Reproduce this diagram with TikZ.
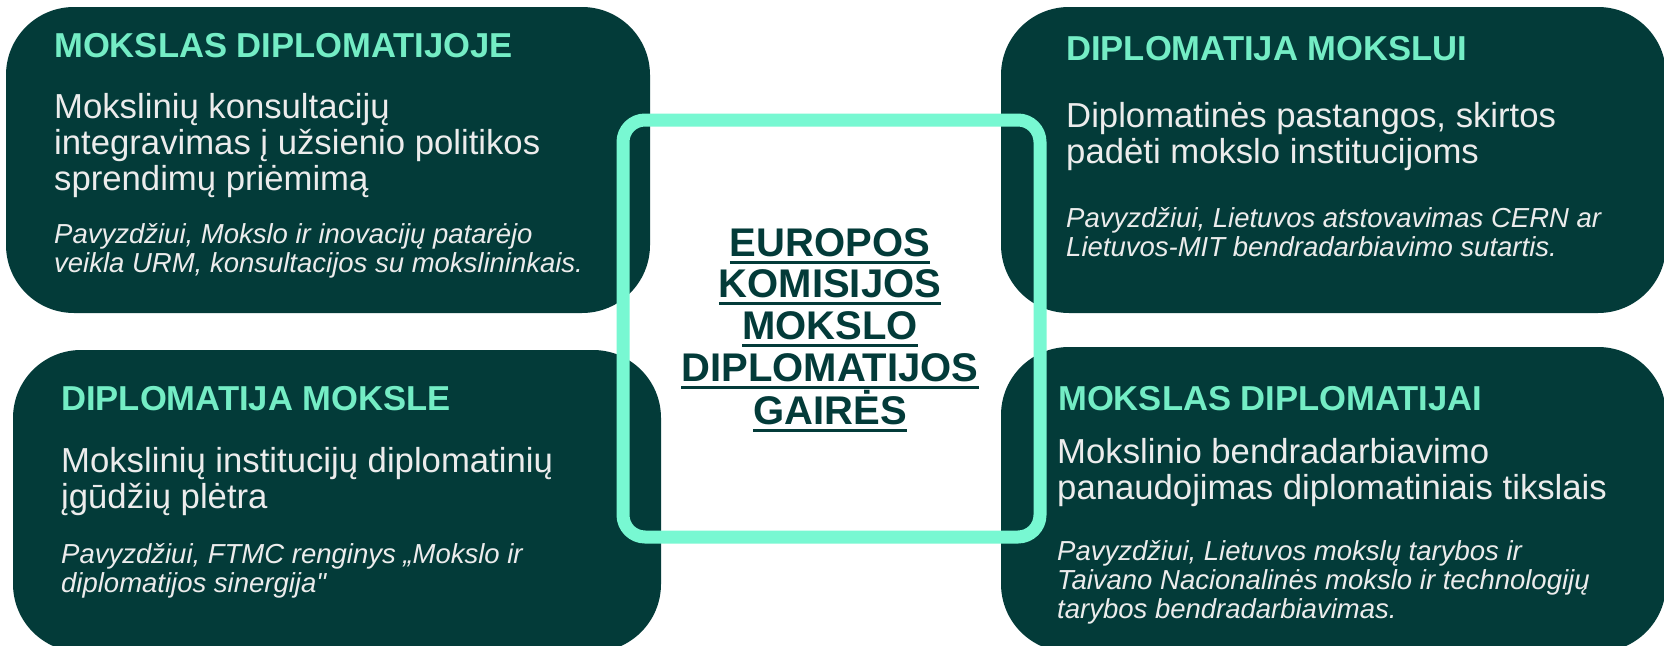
\documentclass[tikz,border=0pt]{standalone}
\usepackage{fontspec}
\setmainfont{Liberation Sans}
\newfontfamily\arial{Liberation Sans}
\definecolor{dark}{HTML}{033B39}
\definecolor{mint}{HTML}{78F8D2}
\definecolor{titlemint}{HTML}{74EDC5}
\definecolor{bodytxt}{HTML}{ECECEC}
\newcommand\myul[1]{\setbox0\hbox{#1}\rlap{\rule[-7.5pt]{\wd0}{3pt}}\box0}
\tikzset{
  panel/.style={fill=dark, draw=none, rounded corners=68pt, inner sep=0pt},
  ptitle/.style={anchor=base west, inner sep=0pt, text=titlemint, font=\arial\fontsize{34.6}{36}\selectfont\bfseries},
  pbody/.style={anchor=base west, inner sep=0pt, text=bodytxt, align=left, font=\arial\fontsize{34.7}{36}\selectfont},
  pex/.style={anchor=base west, inner sep=0pt, text=bodytxt, align=left, font=\arial\fontsize{27.5}{29}\selectfont\itshape},
  frame/.style={draw=mint, line width=13pt, rounded corners=22pt, inner sep=0pt, fill=none},
  ctext/.style={anchor=base, inner sep=0pt, text=dark, align=center, font=\arial\fontsize{40}{41.7}\selectfont\bfseries}
}
\begin{document}
\begin{tikzpicture}[x=1pt,y=-1pt]
\useasboundingbox[fill=white] (0,0) rectangle (1664,645);
% panels
\node[panel, minimum width=644pt, minimum height=306pt] (tl) at (328,160) {};
\node[panel, minimum width=665pt, minimum height=306pt] (tr) at (1333.5,160) {};
\node[panel, minimum width=648pt, minimum height=302pt] (bl) at (337,501) {};
\node[panel, minimum width=665pt, minimum height=305pt] (br) at (1333.5,499.5) {};
% top left (multi-line nodes are placed by the baseline of their last line)
\node[ptitle] (tlt) at (54,57) {MOKSLAS DIPLOMATIJOJE};
\node[pbody] (tlb) at (54,190) {Mokslinių konsultacijų\\integravimas į užsienio politikos\\sprendimų priėmimą};
\node[pex] (tle) at (54,272) {Pavyzdžiui, Mokslo ir inovacijų patarėjo\\veikla URM, konsultacijos su mokslininkais.};
% top right
\node[ptitle] (trt) at (1066,60) {DIPLOMATIJA MOKSLUI};
\node[pbody] (trb) at (1066,163) {Diplomatinės pastangos, skirtos\\padėti mokslo institucijoms};
\node[pex] (tre) at (1066,256) {Pavyzdžiui, Lietuvos atstovavimas CERN ar\\Lietuvos-MIT bendradarbiavimo sutartis.};
% bottom left
\node[ptitle] (blt) at (61,410) {DIPLOMATIJA MOKSLE};
\node[pbody] (blb) at (61,508) {Mokslinių institucijų diplomatinių\\įgūdžių plėtra};
\node[pex] (ble) at (61,592) {Pavyzdžiui, FTMC renginys „Mokslo ir\\diplomatijos sinergija"};
% bottom right
\node[ptitle] (brt) at (1058,410) {MOKSLAS DIPLOMATIJAI};
\node[pbody] (brb) at (1057,499) {Mokslinio bendradarbiavimo\\panaudojimas diplomatiniais tikslais};
\node[pex] (bre) at (1057,618) {Pavyzdžiui, Lietuvos mokslų tarybos ir\\Taivano Nacionalinės mokslo ir technologijų\\tarybos bendradarbiavimas.};
% centre frame
\node[frame, minimum width=417pt, minimum height=417pt] (fr) at (831.5,328.5) {};
\node[ctext] (ct) at (830,424) {\myul{EUROPOS}\\\myul{KOMISIJOS}\\\myul{MOKSLO}\\\myul{DIPLOMATIJOS}\\\myul{GAIRĖS}};
\end{tikzpicture}
\end{document}
